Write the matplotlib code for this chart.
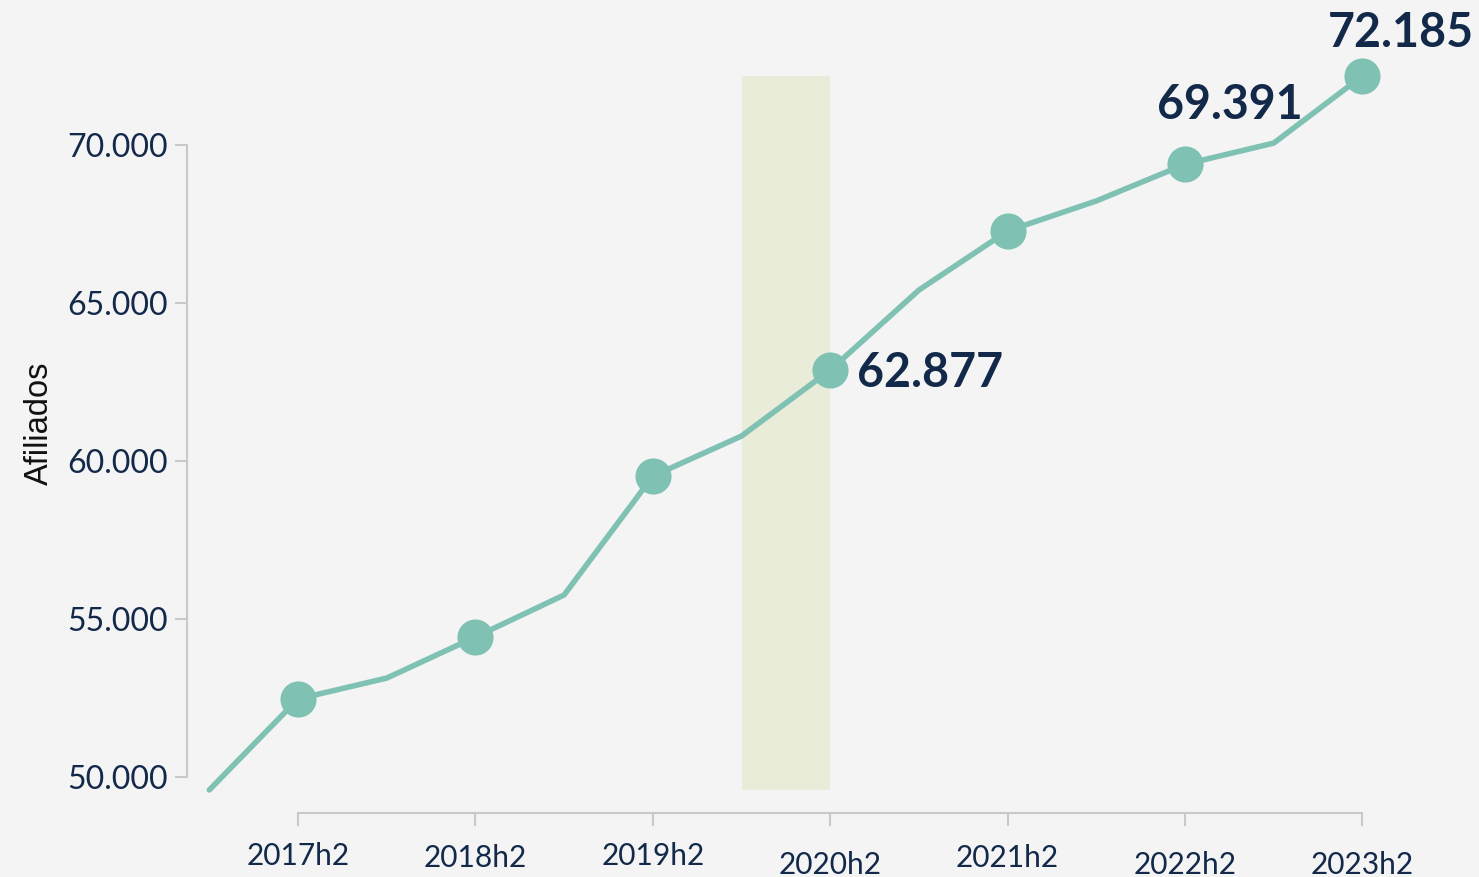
import matplotlib
matplotlib.use("Agg")
import matplotlib.pyplot as plt
import matplotlib.transforms as mtransforms

# ---- data ----
periods = ["2017h1", "2017h2", "2018h1", "2018h2", "2019h1", "2019h2", "2020h1",
           "2020h2", "2021h1", "2021h2", "2022h1", "2022h2", "2023h1", "2023h2"]
afiliados = [49590, 52470, 53130, 54430, 55760, 59520, 60790,
             62877, 65410, 67280, 68230, 69391, 70060, 72185]
tick_labels = ["2017h2", "2018h2", "2019h2", "2020h2", "2021h2", "2022h2", "2023h2"]
y_ticks = [50000, 55000, 60000, 65000, 70000]
highlight_labels = {"2020h2": "62.877", "2022h2": "69.391", "2023h2": "72.185"}
band_periods = ("2020h1", "2020h2")

NAVY = "#13294a"
TEAL = "#7fc1b3"
GRID = "#c9c9c9"
BG = "#f4f4f4"
FONT = "Lato"

fig = plt.figure(figsize=(14.79, 8.77), dpi=100, facecolor=BG)
ax = fig.add_axes([187 / 1479, 77 / 877, 1233 / 1479, 760 / 877])
ax.set_facecolor("none")

x = list(range(len(periods)))
ax.set_xlim(-0.2514, 13.649)
ax.set_ylim(49272, 73323)

# highlight band
b0, b1 = periods.index(band_periods[0]), periods.index(band_periods[1])
ax.fill_between([b0, b1], min(afiliados), max(afiliados), color="#e6eacf",
                alpha=0.75, linewidth=0, zorder=1)

# line
ax.plot(x, afiliados, color=TEAL, lw=4, solid_capstyle="round",
        solid_joinstyle="round", zorder=3)
mx = [i for i, p in enumerate(periods) if p.endswith("h2")]
ax.plot(mx, [afiliados[i] for i in mx], "o", color=TEAL, ms=26,
        markeredgewidth=0, zorder=4)

# value labels
offsets = {"2020h2": (19, -2, "left"), "2022h2": (32, 43, "center"),
           "2023h2": (28, 31, "center")}
for p, txt in highlight_labels.items():
    i = periods.index(p)
    dx, dy, ha = offsets[p]
    ax.annotate(txt, (i, afiliados[i]), xytext=(dx, dy), textcoords="offset points",
                ha=ha, va="center", fontsize=33.5, fontweight="bold",
                color=NAVY, family=FONT, zorder=5)

# axes styling
for s in ["top", "right"]:
    ax.spines[s].set_visible(False)
ax.spines["left"].set_color(GRID)
ax.spines["left"].set_linewidth(1.5)
ax.spines["left"].set_bounds(y_ticks[0], y_ticks[-1])
ax.spines["bottom"].set_color(GRID)
ax.spines["bottom"].set_linewidth(1.5)
ax.spines["bottom"].set_position(("outward", 9))
ax.spines["bottom"].set_bounds(mx[0], mx[-1])

ax.set_yticks(y_ticks)
ax.set_yticklabels([f"{v:,}".replace(",", ".") for v in y_ticks])
ax.set_xticks(mx)
ax.set_xticklabels(tick_labels)
ax.tick_params(axis="y", length=9, width=1.5, color=GRID, pad=5,
               labelsize=23, labelcolor=NAVY)
ax.tick_params(axis="x", length=9.5, width=1.5, color=GRID, pad=12,
               labelsize=21.5, labelcolor=NAVY)
for lab in ax.get_yticklabels() + ax.get_xticklabels():
    lab.set_family(FONT)

# slight vertical jitter of x labels as in the reference
label_dy = [0, -2, 0, -9, -2, -9, -9]
for lab, dy in zip(ax.get_xticklabels(), label_dy):
    off = mtransforms.ScaledTranslation(0, dy / 100, fig.dpi_scale_trans)
    lab.set_transform(lab.get_transform() + off)

ax.set_ylabel("Afiliados", fontsize=23.5, family="Liberation Sans", color="#111111")
ax.yaxis.set_label_coords(-0.107, 0.496)

fig.savefig("out.png", dpi=100, facecolor=BG)
